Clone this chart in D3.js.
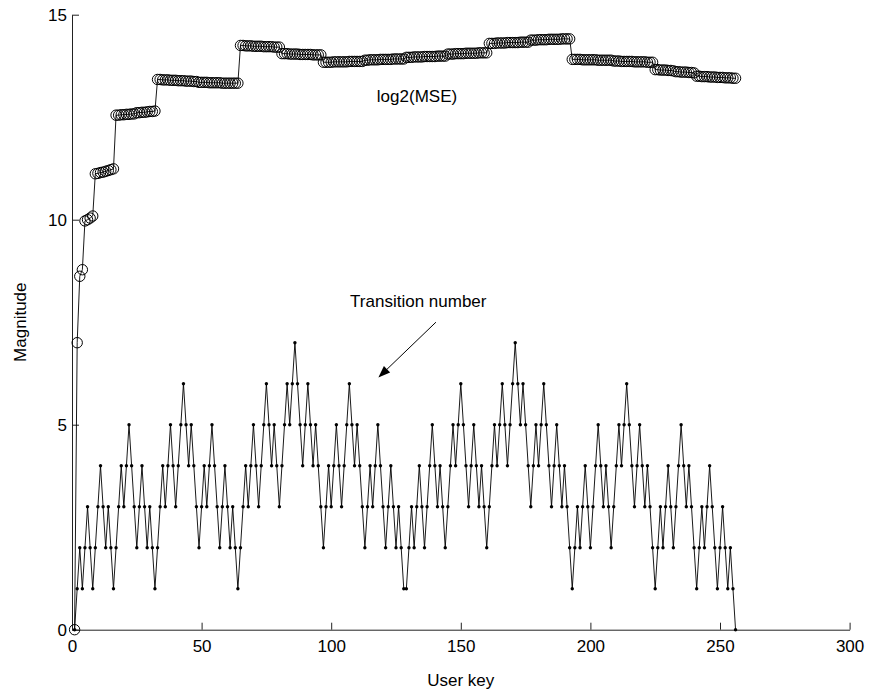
<!DOCTYPE html>
<html>
<head>
<meta charset="utf-8">
<script src="https://cdn.jsdelivr.net/npm/d3@7"></script>
<style>
  body { margin: 0; background: #fff; }
  svg { display: block; font-family: "Liberation Sans", Arial, sans-serif; }
</style>
</head>
<body>
<svg id="canvas" width="869" height="696"></svg>
<script>
// Data
let xTicks = [0, 50, 100, 150, 200, 250, 300];
let yTicks = [0, 5, 10, 15];

// log2(MSE) per user key 1..256
let mseValues = [
    0, 7.0, 8.62, 8.78, 9.97, 10.0, 10.04, 10.09, 11.12, 11.13, 11.15, 11.16, 11.18, 11.2, 11.22, 11.24,
    12.55, 12.55, 12.56, 12.56, 12.57, 12.57, 12.58, 12.58, 12.61, 12.61, 12.62, 12.62, 12.63, 12.64, 12.64, 12.65,
    13.42, 13.42, 13.41, 13.41, 13.41, 13.40, 13.40, 13.40, 13.39, 13.39, 13.39, 13.38, 13.38, 13.38, 13.37, 13.37,
    13.35, 13.35, 13.35, 13.35, 13.34, 13.34, 13.34, 13.34, 13.34, 13.33, 13.33, 13.33, 13.33, 13.33, 13.33, 13.33,
    14.25, 14.25, 14.24, 14.24, 14.24, 14.23, 14.23, 14.23, 14.23, 14.22, 14.22, 14.22, 14.22, 14.21, 14.21, 14.21,
    14.05, 14.05, 14.05, 14.04, 14.04, 14.04, 14.04, 14.03, 14.03, 14.03, 14.03, 14.03, 14.02, 14.02, 14.02, 14.02,
    13.84, 13.84, 13.84, 13.84, 13.85, 13.85, 13.85, 13.85, 13.85, 13.85, 13.86, 13.86, 13.86, 13.86, 13.86, 13.86,
    13.89, 13.89, 13.90, 13.90, 13.90, 13.90, 13.91, 13.91, 13.91, 13.91, 13.91, 13.92, 13.92, 13.92, 13.92, 13.92,
    13.96, 13.96, 13.96, 13.97, 13.97, 13.97, 13.97, 13.98, 13.98, 13.98, 13.98, 13.98, 13.99, 13.99, 13.99, 13.99,
    14.04, 14.04, 14.04, 14.05, 14.05, 14.05, 14.05, 14.06, 14.06, 14.06, 14.06, 14.06, 14.07, 14.07, 14.07, 14.07,
    14.30, 14.30, 14.30, 14.31, 14.31, 14.31, 14.31, 14.32, 14.32, 14.32, 14.32, 14.32, 14.33, 14.33, 14.33, 14.33,
    14.38, 14.38, 14.38, 14.39, 14.39, 14.39, 14.39, 14.40, 14.40, 14.40, 14.40, 14.40, 14.41, 14.41, 14.41, 14.41,
    13.91, 13.91, 13.91, 13.91, 13.90, 13.90, 13.90, 13.90, 13.90, 13.90, 13.89, 13.89, 13.89, 13.89, 13.89, 13.89,
    13.87, 13.87, 13.87, 13.86, 13.86, 13.86, 13.86, 13.86, 13.85, 13.85, 13.85, 13.85, 13.85, 13.84, 13.84, 13.84,
    13.66, 13.66, 13.65, 13.65, 13.65, 13.64, 13.64, 13.63, 13.61, 13.61, 13.60, 13.60, 13.60, 13.59, 13.59, 13.58,
    13.50, 13.50, 13.49, 13.49, 13.49, 13.48, 13.48, 13.48, 13.47, 13.47, 13.47, 13.46, 13.46, 13.46, 13.45, 13.45
];

// Transition number per user key 1..256
let transValues = [
    0, 1, 2, 1, 2, 3, 2, 1, 2, 3, 4, 3, 2, 3, 2, 1,
    2, 3, 4, 3, 4, 5, 4, 3, 2, 3, 4, 3, 2, 3, 2, 1,
    2, 3, 4, 3, 4, 5, 4, 3, 4, 5, 6, 5, 4, 5, 4, 3,
    2, 3, 4, 3, 4, 5, 4, 3, 2, 3, 4, 3, 2, 3, 2, 1,
    2, 3, 4, 3, 4, 5, 4, 3, 4, 5, 6, 5, 4, 5, 4, 3,
    4, 5, 6, 5, 6, 7, 6, 5, 4, 5, 6, 5, 4, 5, 4, 3,
    2, 3, 4, 3, 4, 5, 4, 3, 4, 5, 6, 5, 4, 5, 4, 3,
    2, 3, 4, 3, 4, 5, 4, 3, 2, 3, 4, 3, 2, 3, 2, 1,
    1, 2, 3, 2, 3, 4, 3, 2, 3, 4, 5, 4, 3, 4, 3, 2,
    3, 4, 5, 4, 5, 6, 5, 4, 3, 4, 5, 4, 3, 4, 3, 2,
    3, 4, 5, 4, 5, 6, 5, 4, 5, 6, 7, 6, 5, 6, 5, 4,
    3, 4, 5, 4, 5, 6, 5, 4, 3, 4, 5, 4, 3, 4, 3, 2,
    1, 2, 3, 2, 3, 4, 3, 2, 3, 4, 5, 4, 3, 4, 3, 2,
    3, 4, 5, 4, 5, 6, 5, 4, 3, 4, 5, 4, 3, 4, 3, 2,
    1, 2, 3, 2, 3, 4, 3, 2, 3, 4, 5, 4, 3, 4, 3, 2,
    1, 2, 3, 2, 3, 4, 3, 2, 1, 2, 3, 2, 1, 2, 1, 0
];

let mseData = mseValues.map((v, i) => ({ key: i + 1, value: v }));
let transData = transValues.map((v, i) => ({ key: i + 1, value: v }));

let canvas = d3.select('#canvas');
let fontSize = 17;

// Scales
let xScale = d3.scaleLinear().domain([0, 300]).range([72, 849.6]);
let yScale = d3.scaleLinear().domain([0, 15]).range([629.7, 14.7]);

// Axes (ticks point inward, no box)
let drawAxes = () => {
    let xAxis = d3.axisBottom(xScale)
        .tickValues(xTicks)
        .tickSizeInner(-7)
        .tickSizeOuter(0)
        .tickPadding(10);
    let yAxis = d3.axisLeft(yScale)
        .tickValues(yTicks)
        .tickSizeInner(-7)
        .tickSizeOuter(0)
        .tickPadding(5);

    let gx = canvas.append('g')
        .attr('transform', 'translate(0,' + yScale(0) + ')')
        .call(xAxis);
    let gy = canvas.append('g')
        .attr('transform', 'translate(' + xScale(0) + ',0)')
        .call(yAxis);

    [gx, gy].forEach((g) => {
        g.select('.domain').attr('stroke', '#222').attr('stroke-width', 1);
        g.selectAll('.tick line').attr('stroke', '#222');
        g.selectAll('.tick text')
            .attr('fill', '#000')
            .style('font-size', fontSize + 'px')
            .style('font-family', '"Liberation Sans", Arial, sans-serif');
    });

    // Axis labels
    canvas.append('text')
        .attr('x', (xScale(0) + xScale(300)) / 2)
        .attr('y', 686)
        .attr('text-anchor', 'middle')
        .style('font-size', fontSize + 'px')
        .text('User key');

    canvas.append('text')
        .attr('transform', 'translate(26,' + (yScale(0) + yScale(15)) / 2 + ') rotate(-90)')
        .attr('text-anchor', 'middle')
        .style('font-size', fontSize + 'px')
        .text('Magnitude');
};

// Lines and markers
let drawSeries = () => {
    let line = d3.line()
        .x((d) => xScale(d.key))
        .y((d) => yScale(d.value));

    canvas.append('path')
        .datum(mseData)
        .attr('d', line)
        .attr('fill', 'none')
        .attr('stroke', '#000')
        .attr('stroke-width', 0.9);

    canvas.selectAll('circle.mse')
        .data(mseData)
        .enter()
        .append('circle')
        .attr('class', 'mse')
        .attr('cx', (d) => xScale(d.key))
        .attr('cy', (d) => yScale(d.value))
        .attr('r', 5.2)
        .attr('fill', 'none')
        .attr('stroke', '#000')
        .attr('stroke-width', 1);

    canvas.append('path')
        .datum(transData)
        .attr('d', line)
        .attr('fill', 'none')
        .attr('stroke', '#000')
        .attr('stroke-width', 0.9);

    canvas.selectAll('circle.trans')
        .data(transData)
        .enter()
        .append('circle')
        .attr('class', 'trans')
        .attr('cx', (d) => xScale(d.key))
        .attr('cy', (d) => yScale(d.value))
        .attr('r', 1.7)
        .attr('fill', '#000');
};

// Annotations
let drawNotes = () => {
    canvas.append('text')
        .attr('x', xScale(133.1))
        .attr('y', yScale(12.88))
        .attr('text-anchor', 'middle')
        .style('font-size', fontSize + 'px')
        .text('log2(MSE)');

    canvas.append('text')
        .attr('x', xScale(133.6))
        .attr('y', yScale(7.88))
        .attr('text-anchor', 'middle')
        .style('font-size', fontSize + 'px')
        .text('Transition number');

    let x1 = xScale(140.4), y1 = yScale(7.5);
    let x2 = xScale(118.2), y2 = yScale(6.15);
    let angle = Math.atan2(y2 - y1, x2 - x1);
    let headLen = 12, headHalf = 4.5;
    let bx = x2 - headLen * Math.cos(angle), by = y2 - headLen * Math.sin(angle);

    canvas.append('line')
        .attr('x1', x1).attr('y1', y1)
        .attr('x2', bx).attr('y2', by)
        .attr('stroke', '#000')
        .attr('stroke-width', 1);

    canvas.append('path')
        .attr('d', 'M' + x2 + ',' + y2
            + 'L' + (bx + headHalf * Math.sin(angle)) + ',' + (by - headHalf * Math.cos(angle))
            + 'L' + (bx - headHalf * Math.sin(angle)) + ',' + (by + headHalf * Math.cos(angle)) + 'Z')
        .attr('fill', '#000');
};

drawAxes();
drawSeries();
drawNotes();
</script>
</body>
</html>
